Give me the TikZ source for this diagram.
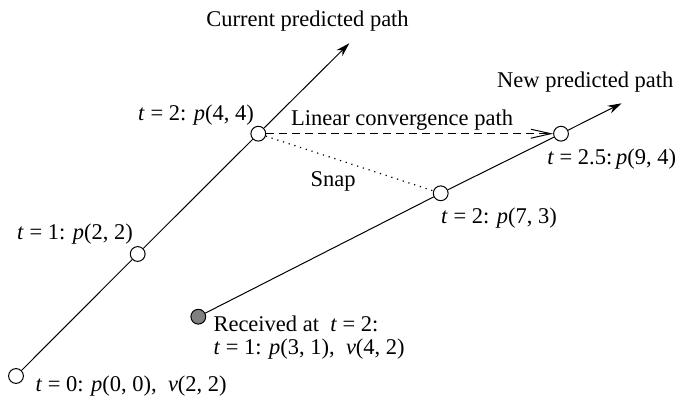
\documentclass[tikz,border=0pt]{standalone}
\usepackage{fontspec}
\setmainfont{Liberation Serif}
\usetikzlibrary{arrows.meta,positioning}

\begin{document}
\begin{tikzpicture}[x=0.5pt, y=0.5pt, line width=0.5pt,
  >={Stealth[length=7pt,width=4.2pt]},
  font=\fontsize{11.25}{11.7}\selectfont,
  waypt/.style={circle, draw, fill=white, minimum size=7.4pt, inner sep=0pt},
  rcvpt/.style={waypt, fill=gray},
  lbl/.style={inner sep=0pt, anchor=base}]
\useasboundingbox (0,0) rectangle (679,401);

% current predicted path
\node[waypt] (p0) at (16,25) {};
\node[waypt] (p1) at (137.7,147) {};
\node[waypt] (p2) at (258.3,267.3) {};
\coordinate (curtip) at (349.3,357.7);

% new predicted path
\node[rcvpt] (rcv) at (198.3,84.3) {};
\node[waypt] (n2) at (440.7,207.7) {};
\node[waypt] (n25) at (561,267.3) {};
\coordinate (newtip) at (621.7,297.7);

\draw (p0) -- (p1) -- (p2);
\draw[->] (p2) -- (curtip);
\draw (rcv) -- (n2) -- (n25);
\draw[->] (n25) -- (newtip);
\draw[line width=0.6pt, dash pattern=on 0.6pt off 2.4pt] (p2) -- (n2);
\draw[dash pattern=on 4pt off 2.5pt, -{Straight Barb[length=10pt,width=4.5pt]}] (p2) -- (n25);

% labels
\node[lbl] (curlab) at (307.5,374) {Current predicted path};
\node[lbl] (newlab) at (585.3,313) {New predicted path};
\node[lbl] (linlab) at (402,275.5) {Linear convergence path};
\node[lbl] (snaplab) at (333,214) {Snap};
\node[lbl] (p2lab) at (196,280) {\textit{t} = 2: \textit{p}(4, 4)};
\node[lbl] (p1lab) at (75,161.7) {\textit{t} = 1: \textit{p}(2, 2)};
\node[lbl] (n2lab) at (499,177) {\textit{t} = 2: \textit{p}(7, 3)};
\node[lbl] (n25lab) at (611.7,236) {\textit{t} = 2.5:\,\textit{p}(9, 4)};
\node[lbl, anchor=base west] (rcvlab) at (213,69.3) {Received at\enspace\textit{t} = 2:};
\node[lbl, anchor=base west] (rcvlab2) at (213,46) {\textit{t} = 1: \textit{p}(3, 1),\enspace\textit{v}(4, 2)};
\node[lbl, anchor=base west] (p0lab) at (35,9.3) {\textit{t} = 0: \textit{p}(0, 0),\enspace\textit{v}(2, 2)};
\end{tikzpicture}
\end{document}
